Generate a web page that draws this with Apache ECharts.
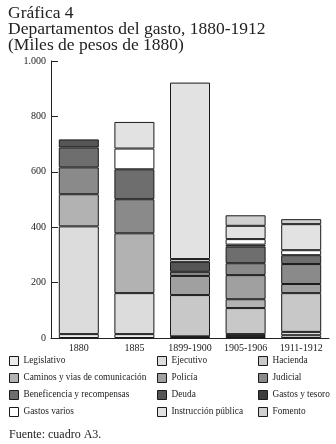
<!DOCTYPE html>
<html>
<head>
<meta charset="utf-8">
<script src="https://cdn.jsdelivr.net/npm/echarts@6/dist/echarts.min.js"></script>
<style>
  html, body { margin: 0; padding: 0; background: #fff; }
  #chart { width: 336px; height: 444px; }
</style>
</head>
<body>
<div id="chart"></div>
<script>
// Periods on the x axis
const categories = ['1880', '1885', '1899-1900', '1905-1906', '1911-1912'];

// Spending by department, thousands of 1880 pesos (null = no spending)
const legislativo  = [14, 14, 3, 7, 10];
const ejecutivo    = [389, 148, 3, 7, 12];
const hacienda     = [null, null, 149, 94, 140];
const caminos      = [116, 216, null, 32, null];
const policia      = [null, null, 69, 87, 33];
const judicial     = [97, 123, 15, 43, 72];
const beneficencia = [72, 108, null, 60, 32];
const deuda        = [29, null, 36, null, null];
const gastosTesoro = [null, null, null, 7, null];
const gastosVarios = [null, 75, 10, 20, 18];
const instruccion  = [null, 96, 637, 48, 94];
const fomento      = [null, null, null, 38, 18];

// Y axis ticks
const yTicks = [0, 200, 400, 600, 800, 1000];

const serif = '"Liberation Serif", "DejaVu Serif", serif';

const seriesDefs = [
  ['Legislativo', legislativo, '#ececec'],
  ['Ejecutivo', ejecutivo, '#dcdcdc'],
  ['Hacienda', hacienda, '#c8c8c8'],
  ['Caminos y vias de comunicación', caminos, '#b2b2b2'],
  ['Policía', policia, '#a0a0a0'],
  ['Judicial', judicial, '#8a8a8a'],
  ['Beneficencia y recompensas', beneficencia, '#6e6e6e'],
  ['Deuda', deuda, '#555555'],
  ['Gastos y tesoro', gastosTesoro, '#3c3c3c'],
  ['Gastos varios', gastosVarios, '#ffffff'],
  ['Instrucción pública', instruccion, '#e2e2e2'],
  ['Fomento', fomento, '#d0d0d0']
];

const series = seriesDefs.map(([name, data, color]) => ({
  name: name,
  type: 'bar',
  stack: 'total',
  data: data,
  barWidth: 40,
  itemStyle: { color: color, borderColor: '#1a1a1a', borderWidth: 1 },
  emphasis: { disabled: true }
}));

// Legend entries carry the same fill and outline as their bars
const legendItem = i => ({
  name: seriesDefs[i][0],
  itemStyle: { color: seriesDefs[i][2], borderColor: '#1a1a1a', borderWidth: 1 }
});

const legendBase = {
  orient: 'vertical',
  top: 356,
  padding: 0,
  itemWidth: 9,
  itemHeight: 9,
  itemGap: 7,
  icon: 'rect',
  selectedMode: false,
  textStyle: { fontFamily: serif, fontSize: 9.3, color: '#222' }
};

const chart = echarts.init(document.getElementById('chart'), null, { renderer: 'canvas' });
chart.setOption({
  animation: false,
  backgroundColor: '#fff',
  title: {
    text: 'Gráfica 4\nDepartamentos del gasto, 1880-1912\n(Miles de pesos de 1880)',
    left: 8,
    top: 5,
    padding: 0,
    textStyle: { fontFamily: serif, fontSize: 17.5, fontWeight: 'normal', color: '#222', lineHeight: 16 }
  },
  legend: [
    Object.assign({}, legendBase, { left: 9, data: [0, 3, 6, 9].map(legendItem) }),
    Object.assign({}, legendBase, { left: 157, data: [1, 4, 7, 10].map(legendItem) }),
    Object.assign({}, legendBase, { left: 258, data: [2, 5, 8, 11].map(legendItem) })
  ],
  grid: { left: 51, right: 7, top: 61, bottom: 106 },
  xAxis: {
    type: 'category',
    data: categories,
    axisLine: { lineStyle: { color: '#222', width: 1 } },
    axisTick: { inside: true, length: 7, lineStyle: { color: '#222' } },
    axisLabel: { fontFamily: serif, fontSize: 10, color: '#222', margin: 5, interval: 0 }
  },
  yAxis: {
    type: 'value',
    min: yTicks[0],
    max: yTicks[yTicks.length - 1],
    interval: yTicks[1] - yTicks[0],
    splitLine: { show: false },
    axisLine: { show: true, lineStyle: { color: '#222', width: 1 } },
    axisTick: { show: true, inside: true, length: 7, lineStyle: { color: '#222' } },
    axisLabel: {
      fontFamily: serif, fontSize: 10, color: '#222', margin: 5,
      formatter: v => v >= 1000 ? String(v).replace(/(\d)(\d{3})$/, '$1.$2') : String(v)
    }
  },
  graphic: [{
    type: 'text',
    left: 9,
    top: 429,
    style: { text: 'Fuente: cuadro A3.', font: '12px ' + serif, fill: '#222' }
  }],
  series: series
});
</script>
</body>
</html>
